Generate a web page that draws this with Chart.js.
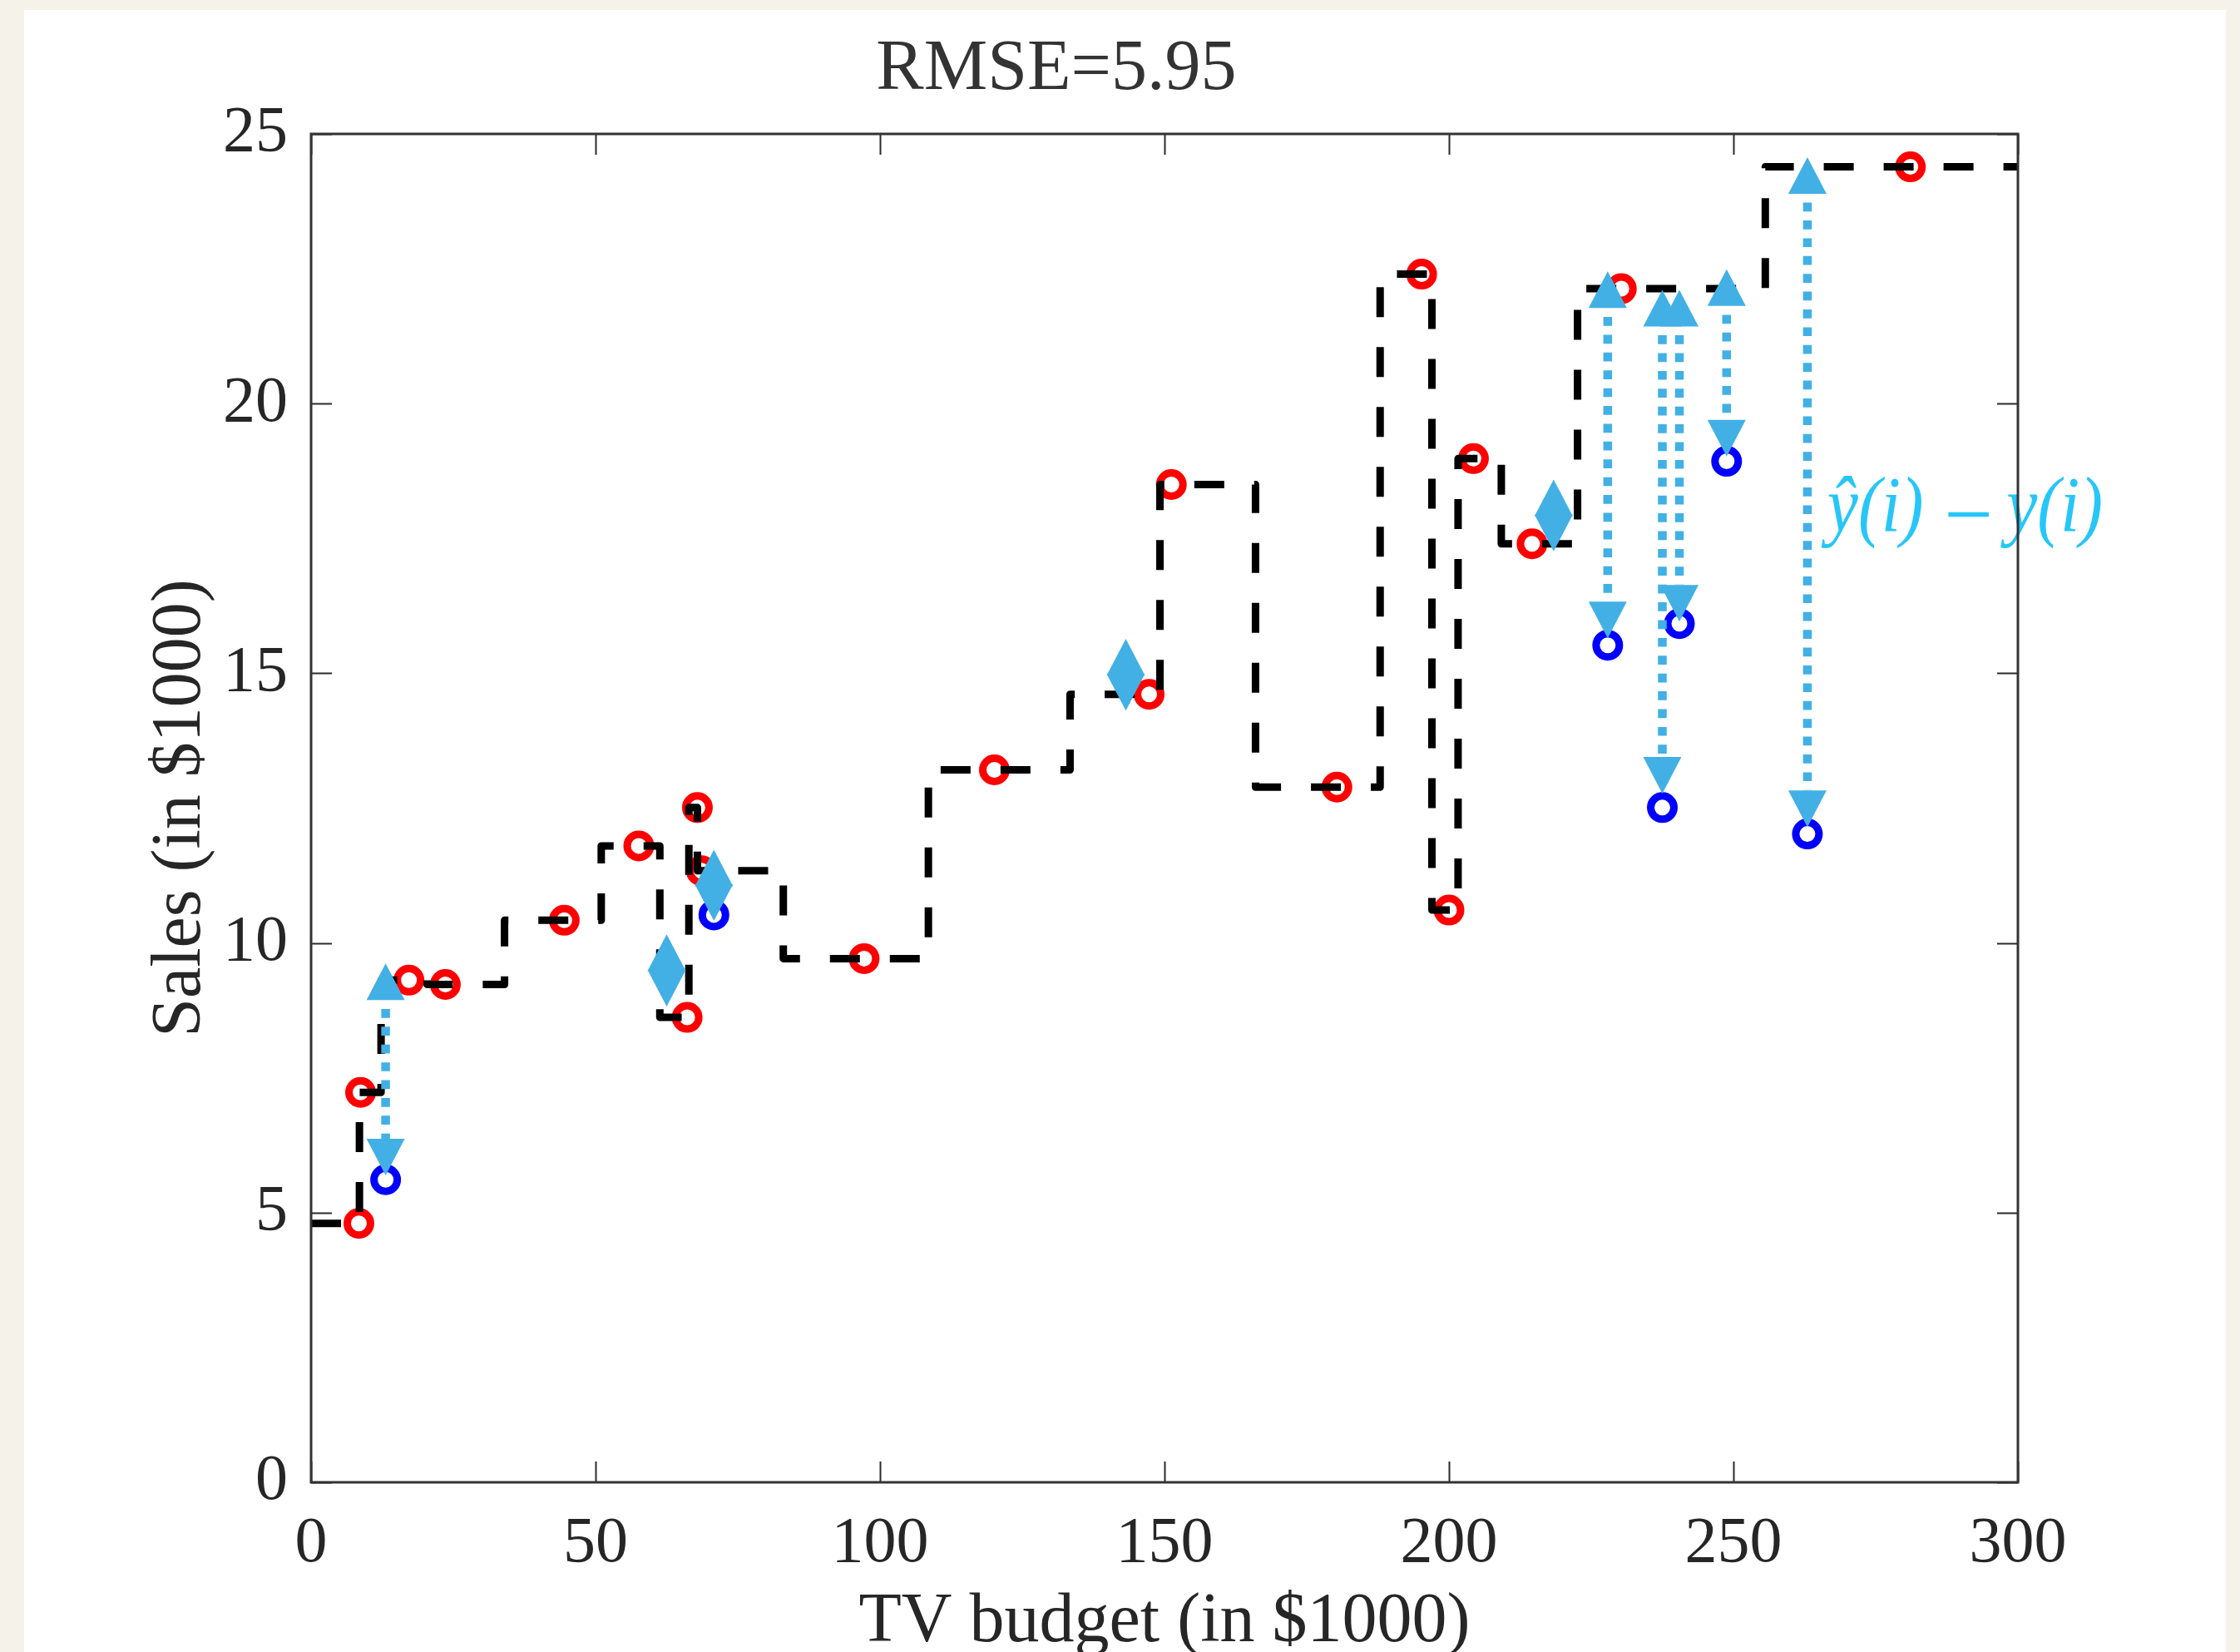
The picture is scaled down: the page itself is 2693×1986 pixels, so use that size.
<!DOCTYPE html>
<html><head><meta charset="utf-8">
<script src="https://cdn.jsdelivr.net/npm/chart.js@4.4.1/dist/chart.umd.min.js"></script>
<style>
html,body{margin:0;padding:0;width:2693px;height:1986px;overflow:hidden;background:#f5f2ea;}
#panel{position:absolute;left:29px;top:12px;width:2647px;height:1974px;background:#fff;}
#wrap{position:absolute;left:0;top:0;width:2693px;height:1986px;}
</style></head><body>
<div id="panel"></div>
<div id="wrap"><canvas id="c" width="2693" height="1986"></canvas></div>
<script>
// ---- data ----
const xTicks = [0, 50, 100, 150, 200, 250, 300];
const yTicks = [0, 5, 10, 15, 20, 25];

const trainX = [8.4, 8.7, 17.2, 23.6, 44.5, 57.6, 66.1, 67.9, 68.6, 97.2, 120.1, 147.3, 151.2, 180.3, 195.2, 200.0, 204.3, 214.6, 230.3, 281.1];
const trainY = [4.80, 7.23, 9.31, 9.23, 10.42, 11.80, 8.62, 12.51, 11.34, 9.71, 13.21, 14.61, 18.50, 12.89, 22.40, 10.61, 18.98, 17.40, 22.13, 24.39];

const testX = [13.1, 62.5, 70.8, 143.2, 218.4, 227.9, 237.5, 240.5, 248.8, 263.0];
const testY = [5.61, 9.49, 10.52, 14.99, 17.93, 15.52, 12.51, 15.92, 18.93, 12.02];

// ends of the double arrows (y-hat end and y end), in data units
const headTop    = [9.62, 10.16, 11.73, 15.64, 18.59, 22.45, 22.11, 22.11, 22.49, 24.57];
const headBottom = [5.69, 8.82, 10.41, 14.31, 17.26, 15.65, 12.77, 15.96, 19.02, 12.15];

// fitted step function (breakpoints and levels)
const stepEdges  = [0, 8.5, 12.3, 20.4, 34.0, 51.0, 61.3, 66.4, 67.9, 83.0, 108.5, 133.4, 149.2, 166.0, 187.9, 197.0, 201.6, 209.2, 222.6, 255.6, 300];
const stepLevels = [4.80, 7.23, 9.31, 9.23, 10.42, 11.80, 8.62, 12.51, 11.34, 9.71, 13.21, 14.61, 18.50, 12.89, 22.40, 10.61, 18.98, 17.40, 22.13, 24.39];

const titleText = 'RMSE=5.95';
const xTitle = 'TV budget (in $1000)';
const yTitle = 'Sales (in $1000)';

// ---- build ----
const SERIF = '"Liberation Serif", "Times New Roman", serif';
const stepData = stepLevels.map((v, i) => ({x: stepEdges[i], y: v}));
stepData.push({x: stepEdges[stepEdges.length - 1], y: stepLevels[stepLevels.length - 1]});
const trainData = trainX.map((x, i) => ({x, y: trainY[i]}));
const testData = testX.map((x, i) => ({x, y: testY[i]}));

const ARROW = '#42b0e5';

const titlePlugin = {
  id: 'titleText',
  afterDraw(chart) {
    const ctx = chart.ctx, a = chart.chartArea;
    ctx.save();
    ctx.font = '86px ' + SERIF;
    ctx.fillStyle = '#333333';
    ctx.textAlign = 'center';
    ctx.textBaseline = 'alphabetic';
    ctx.fillText(titleText, a.left + (a.right - a.left) * 0.4366, a.top - 54);
    ctx.restore();
  }
};

const arrowPlugin = {
  id: 'arrows',
  afterDatasetsDraw(chart) {
    const ctx = chart.ctx, xs = chart.scales.x, ys = chart.scales.y;
    const W = 23, H = 44;
    ctx.save();
    for (let i = 0; i < testX.length; i++) {
      const px = xs.getPixelForValue(testX[i]);
      const t = ys.getPixelForValue(headTop[i]);
      const b = ys.getPixelForValue(headBottom[i]);
      const l0 = t + H, l1 = b - H;
      if (l1 > l0) {
        ctx.strokeStyle = ARROW;
        ctx.lineWidth = 10.5;
        ctx.lineCap = 'butt';
        ctx.setLineDash([10.7, 10.7]);
        ctx.lineDashOffset = 10.7;
        ctx.beginPath();
        ctx.moveTo(px, l0);
        ctx.lineTo(px, l1);
        ctx.stroke();
      }
      ctx.setLineDash([]);
      ctx.fillStyle = ARROW;
      ctx.beginPath();
      ctx.moveTo(px, t); ctx.lineTo(px + W, t + H); ctx.lineTo(px - W, t + H); ctx.closePath();
      ctx.fill();
      ctx.beginPath();
      ctx.moveTo(px, b); ctx.lineTo(px + W, b - H); ctx.lineTo(px - W, b - H); ctx.closePath();
      ctx.fill();
    }
    ctx.restore();
  }
};

const labelPlugin = {
  id: 'errLabel',
  afterDraw(chart) {
    const ctx = chart.ctx, xs = chart.scales.x, ys = chart.scales.y;
    const x0 = xs.getPixelForValue(266.5), base = ys.getPixelForValue(17.63);
    ctx.save();
    ctx.fillStyle = '#27c6f8';
    ctx.textBaseline = 'alphabetic';
    ctx.textAlign = 'left';
    ctx.translate(x0, base);
    ctx.scale(0.97, 1.1);
    ctx.font = 'italic 86px ' + SERIF;
    ctx.fillText('\u0177(i)', 0, 0);
    ctx.fillRect(150, -21, 50, 5);
    ctx.fillText('y(i)', 222, 0);
    ctx.restore();
  }
};

const boxPlugin = {
  id: 'box',
  afterDraw(chart) {
    const ctx = chart.ctx, a = chart.chartArea, xs = chart.scales.x, ys = chart.scales.y;
    const TL = 25;
    ctx.save();
    ctx.strokeStyle = '#2b2b2b';
    ctx.lineWidth = 2;
    ctx.beginPath();
    xTicks.forEach(v => {
      const p = Math.round(xs.getPixelForValue(v)) + 0.5;
      ctx.moveTo(p, a.bottom); ctx.lineTo(p, a.bottom - TL);
      ctx.moveTo(p, a.top); ctx.lineTo(p, a.top + TL);
    });
    yTicks.forEach(v => {
      const p = Math.round(ys.getPixelForValue(v)) + 0.5;
      ctx.moveTo(a.left, p); ctx.lineTo(a.left + TL, p);
      ctx.moveTo(a.right, p); ctx.lineTo(a.right - TL, p);
    });
    ctx.stroke();
    ctx.lineWidth = 3;
    ctx.strokeStyle = '#333333';
    ctx.strokeRect(a.left, a.top, a.right - a.left, a.bottom - a.top);
    ctx.restore();
  }
};

new Chart(document.getElementById('c'), {
  type: 'scatter',
  data: {
    datasets: [
      {
        type: 'line', label: 'fit', data: stepData, stepped: true, order: 0,
        borderColor: '#000000', borderWidth: 9, borderDash: [36, 36],
        borderJoinStyle: 'round', borderCapStyle: 'butt',
        pointRadius: 0, fill: false, tension: 0
      },
      {
        label: 'train', data: trainData, order: 1,
        pointStyle: 'circle', pointRadius: 14, pointBorderWidth: 9,
        borderColor: '#ff0000', backgroundColor: 'rgba(0,0,0,0)', pointBackgroundColor: 'rgba(0,0,0,0)'
      },
      {
        label: 'test', data: testData, order: 2,
        pointStyle: 'circle', pointRadius: 14, pointBorderWidth: 9,
        borderColor: '#0000ff', backgroundColor: 'rgba(0,0,0,0)', pointBackgroundColor: 'rgba(0,0,0,0)'
      }
    ]
  },
  options: {
    responsive: false,
    devicePixelRatio: 1,
    animation: false,
    events: [],
    layout: {padding: {left: 0, top: 161, right: 267, bottom: 0}},
    plugins: {legend: {display: false}, tooltip: {enabled: false}, title: {display: false}},
    scales: {
      x: {
        type: 'linear', position: 'bottom', min: 0, max: 300,
        afterBuildTicks: s => { s.ticks = xTicks.map(v => ({value: v})); },
        afterFit: s => { s.height = 204; },
        grid: {display: false, drawTicks: false},
        border: {display: false},
        ticks: {font: {family: SERIF, size: 78, lineHeight: 1}, color: '#262626', padding: 36, maxRotation: 0, autoSkip: false},
        title: {display: true, text: xTitle, color: '#262626', font: {family: SERIF, size: 84, lineHeight: 0.84}, padding: {top: 0, bottom: 0}}
      },
      y: {
        type: 'linear', position: 'left', min: 0, max: 25,
        afterBuildTicks: s => { s.ticks = yTicks.map(v => ({value: v})); },
        afterFit: s => { s.width = 374; },
        grid: {display: false, drawTicks: false},
        border: {display: false},
        ticks: {font: {family: SERIF, size: 78, lineHeight: 1}, color: '#262626', padding: 28, autoSkip: false},
        title: {display: true, text: yTitle, color: '#262626', font: {family: SERIF, size: 84, lineHeight: 1}, padding: {top: 176, bottom: 0}}
      }
    }
  },
  plugins: [arrowPlugin, titlePlugin, labelPlugin, boxPlugin]
});
</script>
</body></html>
